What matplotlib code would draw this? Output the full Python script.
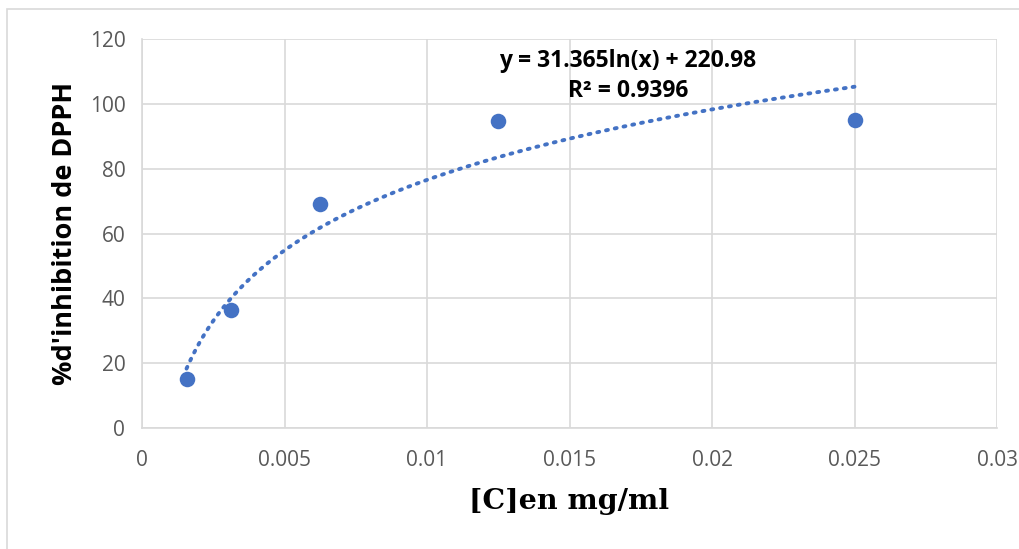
import numpy as np
import matplotlib.pyplot as plt
from matplotlib.patches import Rectangle

# Data
conc = [0.0015625, 0.003125, 0.00625, 0.0125, 0.025]
inhibition = [15.1, 36.4, 69.1, 94.6, 95.0]

# Logarithmic trendline as printed on the chart
slope = 31.365
intercept = 220.98
r2 = 0.9396

x_ticks = [0, 0.005, 0.01, 0.015, 0.02, 0.025, 0.03]
x_tick_labels = ["0", "0.005", "0.01", "0.015", "0.02", "0.025", "0.03"]
y_ticks = [0, 20, 40, 60, 80, 100, 120]

blue = "#4472C4"
grid_col = "#D9D9D9"
tick_col = "#595959"

fig = plt.figure(figsize=(10.19, 5.49), dpi=100)
ax = fig.add_axes([142 / 1019, 1 - 428 / 549, (997 - 142) / 1019, (428 - 39) / 549])

# outer chart border
fig.patches.append(Rectangle((7 / 1019, -0.02), 1.1, 1 - 9 / 549 + 0.02,
                             transform=fig.transFigure, fill=False,
                             edgecolor=grid_col, linewidth=1.2))

# trendline
xs = np.linspace(conc[0], conc[-1], 200)
ax.plot(xs, slope * np.log(xs) + intercept, color=blue, linewidth=2.8,
        linestyle=(0, (0.5, 1.8)), dash_capstyle="round", zorder=2)

ax.scatter(conc, inhibition, s=125, color=blue, zorder=3, linewidths=0)

ax.set_xlim(0, 0.03)
ax.set_ylim(0, 120)
ax.set_xticks(x_ticks)
ax.set_xticklabels(x_tick_labels)
ax.set_yticks(y_ticks)
ax.grid(True, color=grid_col, linewidth=1.2)
ax.set_axisbelow(True)
for side in ["top", "right"]:
    ax.spines[side].set_visible(False)
for side in ["left", "bottom"]:
    ax.spines[side].set_color(grid_col)
    ax.spines[side].set_linewidth(1.2)
ax.tick_params(length=0, labelsize=15, colors=tick_col)
ax.tick_params(axis="y", pad=12)
ax.tick_params(axis="x", pad=16)
for lab in ax.get_xticklabels() + ax.get_yticklabels():
    lab.set_fontfamily("Open Sans")

ax.set_ylabel("%d'inhibition de DPPH", fontsize=19.5, fontweight="bold",
              fontfamily="Open Sans", labelpad=8)
ax.set_xlabel("[C]en mg/ml", fontsize=20.5, fontweight="bold",
              fontfamily="DejaVu Serif", labelpad=12)

ax.text(0.01705, 108.6, f"y = {slope}ln(x) + {intercept}\nR² = {r2}",
        ha="center", va="center", fontsize=16.5, fontweight="bold",
        fontfamily="Open Sans", linespacing=1.38)

fig.savefig("out.png", dpi=100)
